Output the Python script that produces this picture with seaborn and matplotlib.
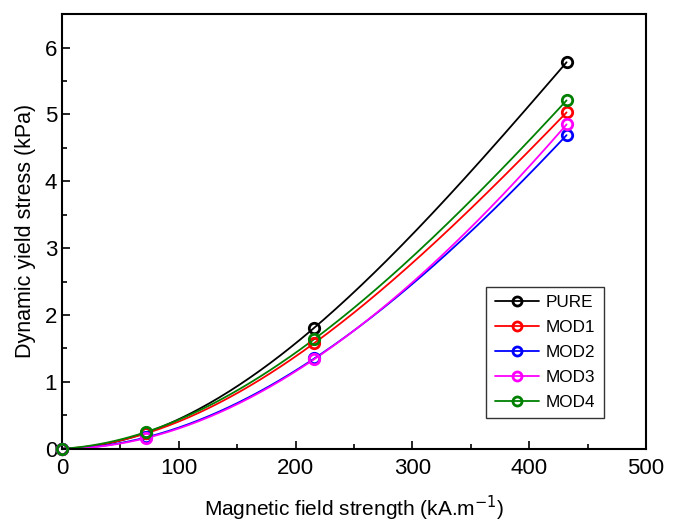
import seaborn as sns
import matplotlib.pyplot as plt
import matplotlib.ticker as mticker
import pandas as pd
import numpy as np

# Data
field = [0, 72, 216, 432]
pure = [0, 0.24, 1.81, 5.78]
mod1 = [0, 0.23, 1.58, 5.03]
mod2 = [0, 0.17, 1.35, 4.69]
mod3 = [0, 0.16, 1.34, 4.85]
mod4 = [0, 0.25, 1.64, 5.21]
names = ['PURE', 'MOD1', 'MOD2', 'MOD3', 'MOD4']
colors = ['black', 'red', 'blue', 'magenta', 'green']

series = dict(zip(names, [pure, mod1, mod2, mod3, mod4]))
df = pd.DataFrame([(n, x, y) for n, ys in series.items() for x, y in zip(field, ys)],
                  columns=['Sample', 'H', 'Stress'])

sns.set_theme(style='white', rc={'text.color': 'black', 'axes.labelcolor': 'black',
                                 'xtick.color': 'black', 'ytick.color': 'black'})
plt.rcParams['font.family'] = ['Liberation Sans', 'DejaVu Sans']

fig = plt.figure(figsize=(6.75, 5.23), dpi=100)
ax = fig.add_axes([0.092, 0.142, 0.865, 0.831])

# smooth curve through the points (cubic through the 4 measured points)
xs = np.linspace(0, 432, 200)
for name, col in zip(names, colors):
    sub = df[df.Sample == name]
    coef = np.polyfit(sub.H, sub.Stress, 3)
    sns.lineplot(x=xs, y=np.polyval(coef, xs), color=col, lw=1.3, ax=ax)
    ax.plot(sub.H, sub.Stress, 'o', mfc='none', mec=col, mew=2, ms=7.5, clip_on=False, zorder=5)

# legend handles
handles = [plt.Line2D([], [], color=c, lw=1.3, marker='o', mfc='none', mec=c, mew=2, ms=6.5)
           for c in colors]
ax.legend(handles, names, loc='lower right', bbox_to_anchor=(0.928, 0.07), fontsize=12.3,
          frameon=True, fancybox=False, edgecolor='black', handlelength=2.6,
          labelspacing=0.58, borderpad=0.5, handletextpad=0.4, borderaxespad=0)

ax.set_xlim(0, 500)
ax.set_ylim(0, 6.5)
ax.xaxis.set_major_locator(mticker.MultipleLocator(100))
ax.xaxis.set_minor_locator(mticker.MultipleLocator(50))
ax.yaxis.set_major_locator(mticker.MultipleLocator(1))
ax.yaxis.set_minor_locator(mticker.MultipleLocator(0.5))
ax.tick_params(which='both', direction='in', bottom=True, left=True, labelsize=16)
ax.tick_params(which='major', length=6, width=1.2)
ax.tick_params(which='minor', length=3.5, width=1.2)
ax.tick_params(axis='x', pad=7)
for s in ax.spines.values():
    s.set_color('black')
    s.set_linewidth(1.5)

ax.set_xlabel('Magnetic field strength (kA.m$^{-1}$)', fontsize=15, labelpad=10)
ax.set_ylabel('Dynamic yield stress (kPa)', fontsize=15.5, labelpad=6)

fig.savefig('out.png', dpi=100)
